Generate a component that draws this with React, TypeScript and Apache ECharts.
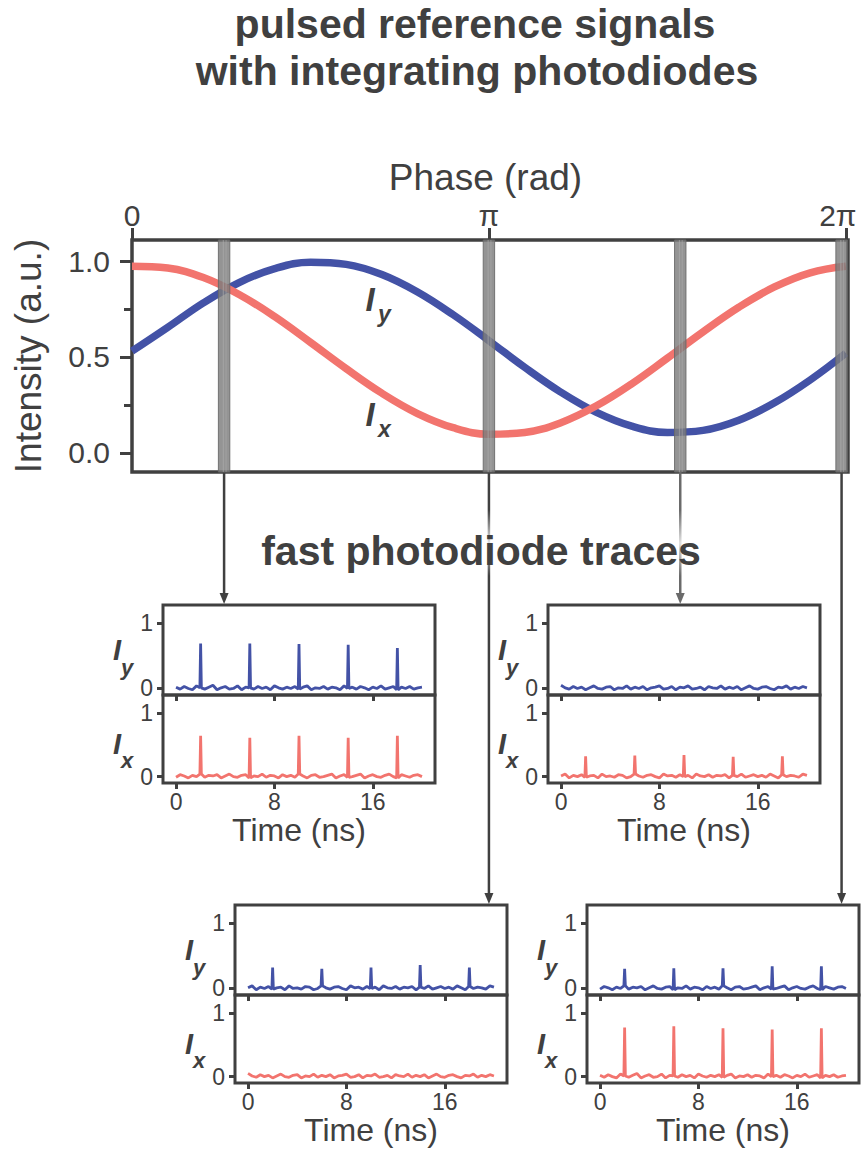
import React, { useEffect, useRef } from "react";
import * as echarts from "echarts";

// ---------- data ----------
// phase in units of pi
const PHASE_PI = [0, 0.1, 0.2, 0.3, 0.4, 0.5, 0.6, 0.7, 0.8, 0.9, 1.0, 1.1, 1.2, 1.3, 1.4, 1.5, 1.6, 1.7, 1.8, 1.9, 2.0];
const I_X_MAIN = [0.973, 0.964, 0.914, 0.826, 0.71, 0.576, 0.439, 0.311, 0.205, 0.131, 0.097, 0.106, 0.156, 0.244, 0.36, 0.494, 0.631, 0.759, 0.865, 0.939, 0.973];
const I_Y_MAIN = [0.53, 0.654, 0.782, 0.888, 0.961, 0.994, 0.983, 0.93, 0.839, 0.72, 0.585, 0.446, 0.318, 0.212, 0.139, 0.106, 0.117, 0.17, 0.261, 0.38, 0.52];
const BAND_PHASE_PI = [0.258, 1.0, 1.536, 1.988];
const PHASE_TICKS = [0, 1, 2];
const PHASE_LABELS = ["0", "π", "2π"];
const INTENSITY_TICKS = [0, 0.5, 1];
const INTENSITY_MINOR = [0.25, 0.75];

const TIME_TICKS = [0, 8, 16];
const TRACE_TICKS = [0, 1];
const TIME_STEP_NS = 1 / 3;
const SPIKE_TIMES = [2, 6, 10, 14, 18];

// baseline noise of the fast photodiode traces (a.u.), one sample every 1/3 ns from 0 to 20 ns
const NOISE_A = [
  0.02, -0.01, 0.03, 0.0, -0.02, 0.04, 0.01, -0.01, 0.02, 0.05,
  -0.02, 0.01, 0.03, -0.01, 0.0, 0.04, -0.02, 0.02, 0.01, -0.01,
  0.03, 0.0, 0.02, -0.02, 0.04, 0.01, -0.01, 0.02, 0.0, 0.03,
  -0.01, 0.02, 0.04, -0.02, 0.01, 0.0, 0.03, -0.01, 0.02, 0.01,
  -0.02, 0.04, 0.0, 0.02, -0.01, 0.03, 0.01, -0.02, 0.02, 0.0,
  0.04, -0.01, 0.01, 0.03, -0.02, 0.02, 0.0, 0.03, -0.01, 0.01,
  0.02,
];
const NOISE_B = [
  -0.01, 0.03, 0.01, -0.02, 0.02, 0.0, 0.04, -0.01, 0.02, 0.01,
  0.03, -0.02, 0.01, 0.04, 0.0, -0.01, 0.02, 0.03, -0.02, 0.01,
  0.0, 0.04, -0.01, 0.02, 0.01, -0.02, 0.03, 0.0, 0.02, -0.01,
  0.04, 0.01, -0.02, 0.02, 0.03, -0.01, 0.0, 0.02, 0.04, -0.02,
  0.01, 0.03, -0.01, 0.0, 0.02, 0.04, -0.02, 0.01, 0.03, 0.0,
  -0.01, 0.02, 0.04, 0.0, -0.02, 0.03, 0.01, -0.01, 0.02, 0.03,
  0.0,
];
const NOISE_C = [
  0.05, 0.01, -0.01, 0.03, 0.0, 0.02, -0.02, 0.01, 0.04, 0.0,
  -0.01, 0.02, 0.03, -0.02, 0.01, 0.0, 0.04, -0.01, 0.02, 0.0,
  0.03, -0.02, 0.01, 0.02, 0.04, -0.01, 0.0, 0.03, -0.02, 0.02,
  0.01, 0.04, -0.01, 0.0, 0.02, -0.02, 0.03, 0.01, 0.0, 0.04,
  -0.01, 0.02, 0.0, 0.03, -0.02, 0.01, 0.04, 0.0, -0.01, 0.02,
  0.03, 0.0, -0.02, 0.02, 0.01, 0.04, -0.01, 0.02, 0.0, 0.03,
  0.01,
];
const NOISE_D = [
  0.01, 0.04, -0.02, 0.02, 0.0, 0.03, -0.01, 0.01, 0.02, -0.02,
  0.04, 0.0, 0.01, -0.01, 0.03, 0.02, -0.02, 0.0, 0.04, 0.01,
  -0.01, 0.02, 0.03, 0.0, -0.02, 0.04, 0.01, 0.02, -0.01, 0.03,
  0.0, 0.02, -0.02, 0.04, 0.01, 0.0, 0.03, -0.01, 0.02, 0.01,
  0.03, -0.02, 0.02, 0.0, 0.04, -0.01, 0.01, 0.03, 0.0, 0.02,
  -0.01, 0.04, 0.01, -0.02, 0.03, 0.0, 0.02, 0.01, -0.01, 0.04,
  0.02,
];

// spike heights per panel (panel order: top-left, top-right, bottom-left, bottom-right)
const IY_SPIKES_P1 = [0.69, 0.69, 0.68, 0.67, 0.62];
const IX_SPIKES_P1 = [0.64, 0.61, 0.64, 0.61, 0.64];
const IY_SPIKES_P2: number[] = [];
const IX_SPIKES_P2 = [0.32, 0.33, 0.34, 0.31, 0.32];
const IY_SPIKES_P3 = [0.32, 0.3, 0.32, 0.36, 0.32];
const IX_SPIKES_P3: number[] = [];
const IY_SPIKES_P4 = [0.3, 0.31, 0.31, 0.34, 0.34];
const IX_SPIKES_P4 = [0.77, 0.79, 0.76, 0.74, 0.76];

const PANEL_TRACES = [
  { iy: { noise: NOISE_A, spikes: IY_SPIKES_P1 }, ix: { noise: NOISE_B, spikes: IX_SPIKES_P1 } },
  { iy: { noise: NOISE_C, spikes: IY_SPIKES_P2 }, ix: { noise: NOISE_D, spikes: IX_SPIKES_P2 } },
  { iy: { noise: NOISE_D, spikes: IY_SPIKES_P3 }, ix: { noise: NOISE_C, spikes: IX_SPIKES_P3 } },
  { iy: { noise: NOISE_B, spikes: IY_SPIKES_P4 }, ix: { noise: NOISE_A, spikes: IX_SPIKES_P4 } },
];
const BAND_TO_PANEL = [0, 2, 1, 3];

// ---------- style / layout ----------
const DARK = "#404040";
const RED = "#F2746E";
const BLUE = "#4352A6";
const FONT = '"Liberation Sans", Arial, Helvetica, sans-serif';

const MAIN = { left: 132, top: 240, width: 716, height: 232 };
const MAIN_X_MAX = 2.006;
const MAIN_Y_MIN = -0.1;
const MAIN_Y_MAX = 1.11;
const BAND_HALF = 0.016;

const PANELS = [
  { left: 163, top: 605 },
  { left: 548, top: 605 },
  { left: 235, top: 905 },
  { left: 587, top: 905 },
];
const PANEL_W = 272;
const UPPER_H = 90;
const LOWER_H = 88;
const T_MIN = -1.06;
const T_MAX = 21.06;
const P_Y_MIN = -0.1;
const P_Y_MAX = 1.28;

function buildTrace(noise: number[], spikes: number[]) {
  const out: number[][] = [];
  noise.forEach((v, k) => {
    const t = k * TIME_STEP_NS;
    const si = SPIKE_TIMES.findIndex((s) => Math.abs(s - t) < 1e-6);
    if (si >= 0 && spikes.length > 0) {
      out.push([t - 0.06, v]);
      out.push([t, spikes[si]]);
      out.push([t + 0.06, v]);
    } else {
      out.push([t, v]);
    }
  });
  return out;
}

function gridBox(left: number, top: number, width: number, height: number, bw: number) {
  return {
    left,
    top,
    width,
    height,
    show: true,
    borderColor: DARK,
    borderWidth: bw,
    backgroundColor: "transparent",
    containLabel: false,
    outerBoundsMode: "none",
  };
}

function panelXAxis(gridIndex: number, withLabels: boolean) {
  return {
    type: "value",
    gridIndex,
    min: T_MIN,
    max: T_MAX,
    position: "bottom",
    axisLine: { show: false, onZero: false },
    splitLine: { show: false },
    axisTick: { show: true, customValues: TIME_TICKS, length: 6, inside: false, lineStyle: { color: DARK, width: 3 } },
    axisLabel: { show: withLabels, customValues: TIME_TICKS, fontSize: 23, color: DARK, margin: 7, fontFamily: FONT },
    name: withLabels ? "Time (ns)" : "",
    nameLocation: "middle",
    nameGap: 31,
    nameTextStyle: { fontSize: 32, color: DARK, fontFamily: FONT },
  };
}

function panelYAxis(gridIndex: number) {
  return {
    type: "value",
    gridIndex,
    min: P_Y_MIN,
    max: P_Y_MAX,
    position: "left",
    axisLine: { show: false, onZero: false },
    splitLine: { show: false },
    axisTick: { show: true, customValues: TRACE_TICKS, length: 6, inside: false, lineStyle: { color: DARK, width: 3 } },
    axisLabel: { show: true, customValues: TRACE_TICKS, fontSize: 23, color: DARK, margin: 10, fontFamily: FONT },
  };
}

function buildOption() {
  const grids: any[] = [gridBox(MAIN.left, MAIN.top, MAIN.width, MAIN.height, 3.5)];
  const xAxes: any[] = [
    {
      type: "value",
      gridIndex: 0,
      min: 0,
      max: MAIN_X_MAX,
      position: "top",
      axisLine: { show: false, onZero: false },
      splitLine: { show: false },
      axisTick: { show: true, customValues: PHASE_TICKS, length: 12, inside: false, lineStyle: { color: DARK, width: 3 } },
      axisLabel: {
        show: true,
        customValues: PHASE_TICKS,
        formatter: (v: number) => {
          const k = PHASE_TICKS.indexOf(Math.round(v));
          const t = PHASE_LABELS[k] ?? "";
          return k === PHASE_TICKS.length - 1 ? `{last|${t}}` : t;
        },
        rich: { last: { fontSize: 30, color: DARK, fontFamily: FONT, padding: [0, 16, 0, 0] } },
        fontSize: 30,
        color: DARK,
        margin: 10,
        fontFamily: FONT,
      },
      name: "Phase (rad)",
      nameLocation: "middle",
      nameGap: 44,
      nameTextStyle: { fontSize: 37, color: DARK, fontFamily: FONT, padding: [0, 9, 0, 0] },
    },
  ];
  const yAxes: any[] = [
    {
      type: "value",
      gridIndex: 0,
      min: MAIN_Y_MIN,
      max: MAIN_Y_MAX,
      position: "left",
      axisLine: { show: false, onZero: false },
      splitLine: { show: false },
      axisTick: { show: true, customValues: INTENSITY_TICKS, length: 12, inside: false, lineStyle: { color: DARK, width: 3 } },
      axisLabel: {
        show: true,
        customValues: INTENSITY_TICKS,
        formatter: (v: number) => v.toFixed(1),
        fontSize: 30,
        color: DARK,
        margin: 22,
        fontFamily: FONT,
      },
      name: "Intensity (a.u.)",
      nameLocation: "middle",
      nameRotate: 90,
      nameGap: 85,
      nameTextStyle: { fontSize: 37, color: DARK, fontFamily: FONT },
    },
    {
      type: "value",
      gridIndex: 0,
      min: MAIN_Y_MIN,
      max: MAIN_Y_MAX,
      position: "left",
      axisLine: { show: false, onZero: false },
      splitLine: { show: false },
      axisTick: { show: true, customValues: INTENSITY_MINOR, length: 8, inside: false, lineStyle: { color: DARK, width: 3 } },
      axisLabel: { show: false },
    },
  ];

  const series: any[] = [
    {
      type: "line",
      name: "Iy",
      xAxisIndex: 0,
      yAxisIndex: 0,
      data: PHASE_PI.map((p, k) => [p, I_Y_MAIN[k]]),
      smooth: 0.4,
      showSymbol: false,
      lineStyle: { color: BLUE, width: 7.5 },
      z: 2,
    },
    {
      type: "line",
      name: "Ix",
      xAxisIndex: 0,
      yAxisIndex: 0,
      data: PHASE_PI.map((p, k) => [p, I_X_MAIN[k]]),
      smooth: 0.4,
      showSymbol: false,
      lineStyle: { color: RED, width: 7.5 },
      z: 3,
    },
    {
      type: "custom",
      name: "bands",
      xAxisIndex: 0,
      yAxisIndex: 0,
      z: 5,
      silent: true,
      data: BAND_PHASE_PI.map((p) => [p, 0]),
      encode: { x: 0, y: 1 },
      renderItem: (_params: any, api: any) => {
        const p = api.value(0) as number;
        const tl = api.coord([p - BAND_HALF, MAIN_Y_MAX]);
        const br = api.coord([p + BAND_HALF, MAIN_Y_MIN]);
        const w = br[0] - tl[0];
        const h = br[1] - tl[1];
        return {
          type: "group",
          children: [
            {
              type: "rect",
              shape: { x: tl[0], y: tl[1], width: w, height: h },
              style: { fill: "rgba(125,125,125,0.82)", stroke: "rgba(105,105,105,0.9)", lineWidth: 1 },
            },
            {
              type: "rect",
              shape: { x: tl[0] + w * 0.38, y: tl[1], width: 1.2, height: h },
              style: { fill: "rgba(175,175,175,0.55)" },
            },
            {
              type: "rect",
              shape: { x: tl[0] + w * 0.62, y: tl[1], width: 1.2, height: h },
              style: { fill: "rgba(175,175,175,0.45)" },
            },
          ],
        };
      },
    },
  ];

  PANELS.forEach((pnl, i) => {
    const gU = grids.length;
    grids.push(gridBox(pnl.left, pnl.top, PANEL_W, UPPER_H, 3));
    const gL = grids.length;
    grids.push(gridBox(pnl.left, pnl.top + UPPER_H, PANEL_W, LOWER_H, 3));
    const xU = xAxes.length;
    xAxes.push(panelXAxis(gU, false));
    const xL = xAxes.length;
    xAxes.push(panelXAxis(gL, true));
    const yU = yAxes.length;
    yAxes.push(panelYAxis(gU));
    const yL = yAxes.length;
    yAxes.push(panelYAxis(gL));
    const tr = PANEL_TRACES[i];
    series.push({
      type: "line",
      name: `Iy trace ${i + 1}`,
      xAxisIndex: xU,
      yAxisIndex: yU,
      data: buildTrace(tr.iy.noise, tr.iy.spikes),
      showSymbol: false,
      lineStyle: { color: BLUE, width: 2.8 },
      z: 2,
    });
    series.push({
      type: "line",
      name: `Ix trace ${i + 1}`,
      xAxisIndex: xL,
      yAxisIndex: yL,
      data: buildTrace(tr.ix.noise, tr.ix.spikes),
      showSymbol: false,
      lineStyle: { color: RED, width: 2.8 },
      z: 2,
    });
  });

  return {
    animation: false,
    backgroundColor: "#ffffff",
    textStyle: { fontFamily: FONT, color: DARK },
    grid: grids,
    xAxis: xAxes,
    yAxis: yAxes,
    series,
  };
}

function labelText(x: number, y: number, text: string, size: number, bold: boolean, italic: boolean, align = "center") {
  return {
    type: "text",
    x,
    y,
    z: 10,
    silent: true,
    style: {
      text,
      fill: DARK,
      fontSize: size,
      fontWeight: bold ? "bold" : "normal",
      fontStyle: italic ? "italic" : "normal",
      fontFamily: FONT,
      align,
      verticalAlign: "middle",
      textAlign: align,
      textVerticalAlign: "middle",
    },
  };
}

function buildGraphic(bandX: number[]) {
  const els: any[] = [];
  const y1 = MAIN.top + MAIN.height;
  const ARROW_COLORS = [DARK, DARK, "#6a6a6a", DARK];
  bandX.forEach((x, i) => {
    const pnl = PANELS[BAND_TO_PANEL[i]];
    const tipY = pnl.top - 1;
    const color = ARROW_COLORS[i];
    let stroke: any = color;
    if (x > 250 && x < 712) {
      const L = tipY - y1;
      stroke = new echarts.graphic.LinearGradient(
        0,
        y1,
        0,
        tipY,
        [
          { offset: 0, color },
          { offset: (510 - y1) / L, color },
          { offset: (543 - y1) / L, color: "#e2e2e2" },
          { offset: (576 - y1) / L, color },
          { offset: 1, color },
        ],
        true
      );
    }
    els.push({
      type: "line",
      z: 1,
      silent: true,
      shape: { x1: x, y1, x2: x, y2: tipY - 8 },
      style: { stroke, lineWidth: 2.5 },
    });
    els.push({
      type: "polygon",
      z: 1,
      silent: true,
      shape: { points: [[x - 4.5, tipY - 11], [x + 4.5, tipY - 11], [x, tipY]] },
      style: { fill: color },
    });
  });

  // titles
  els.push(labelText(475, 24, "pulsed reference signals", 41, true, false));
  els.push(labelText(477, 71, "with integrating photodiodes", 41, true, false));
  els.push(labelText(481, 551, "fast photodiode traces", 41, true, false));

  // main curve labels
  els.push(labelText(370, 299, "I", 33, true, true));
  els.push(labelText(378, 314, "y", 23, true, true, "left"));
  els.push(labelText(370, 414, "I", 33, true, true));
  els.push(labelText(378, 429, "x", 23, true, true, "left"));

  // panel labels
  PANELS.forEach((p) => {
    els.push(labelText(p.left - 46, p.top + 45, "I", 29, true, true));
    els.push(labelText(p.left - 42, p.top + 62, "y", 22, true, true, "left"));
    els.push(labelText(p.left - 46, p.top + 139, "I", 29, true, true));
    els.push(labelText(p.left - 42, p.top + 155, "x", 22, true, true, "left"));
  });
  return els;
}

export default function App() {
  const ref = useRef<HTMLDivElement>(null);
  useEffect(() => {
    if (!ref.current) return;
    const chart = echarts.init(ref.current, null, { renderer: "svg" });
    chart.setOption(buildOption() as any);
    const bandX = BAND_PHASE_PI.map((p) => chart.convertToPixel({ xAxisIndex: 0 } as any, p) as unknown as number);
    chart.setOption({ graphic: { elements: buildGraphic(bandX) } } as any);
    return () => chart.dispose();
  }, []);
  return <div ref={ref} style={{ position: "absolute", left: 0, top: 0, width: 863, height: 1151 }} />;
}
